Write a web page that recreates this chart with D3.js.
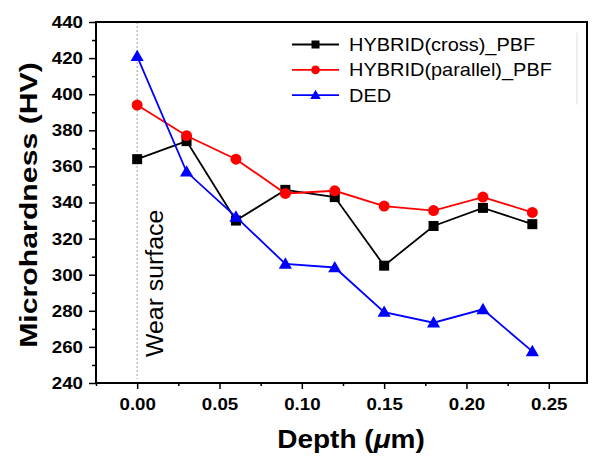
<!DOCTYPE html>
<html>
<head>
<meta charset="utf-8">
<script src="https://cdn.jsdelivr.net/npm/d3@7"></script>
<style>
  body { margin: 0; background: #fff; }
  text { font-family: "Liberation Sans", Arial, sans-serif; }
</style>
</head>
<body>
<div id="chart"></div>
<script>
// data
var depth = [0.00, 0.03, 0.06, 0.09, 0.12, 0.15, 0.18, 0.21, 0.24];
var cross = [364, 374, 330, 347, 343, 305, 327, 337, 328];
var parallel = [394, 377, 364, 345, 346.5, 338, 335.5, 343, 334.5];
var ded = [421, 357, 332, 306, 304, 279.3, 273.4, 280.8, 257.5];
var seriesNames = ["HYBRID(cross)_PBF", "HYBRID(parallel)_PBF", "DED"];
var xTicks = [0, 0.05, 0.10, 0.15, 0.20, 0.25];
var yTicks = [240, 260, 280, 300, 320, 340, 360, 380, 400, 420, 440];

var series = [
  {name: seriesNames[0], values: cross, color: "#000000", shape: "square"},
  {name: seriesNames[1], values: parallel, color: "#ff0000", shape: "circle"},
  {name: seriesNames[2], values: ded, color: "#0000ff", shape: "triangle"}
];

// set the dimensions and margins of the graph
var W = 594, H = 457;
var margin = {top: 22, right: 7, bottom: 74, left: 96},
    width = W - margin.left - margin.right,
    height = H - margin.top - margin.bottom;

var x = d3.scaleLinear().domain([-0.025, 0.2732]).range([0, width]);
var y = d3.scaleLinear().domain([240, 440]).range([height, 0]);

// the original text is drawn a bit wider than the font, stretch it along its own direction
function stretch(sel, k) {
  sel.each(function() {
    var len = this.getComputedTextLength();
    d3.select(this).attr("textLength", len * k).attr("lengthAdjust", "spacingAndGlyphs");
  });
}

var svg = d3.select("#chart").append("svg")
    .attr("width", W)
    .attr("height", H)
  .append("g")
    .attr("transform", "translate(" + margin.left + "," + margin.top + ")");

// wear surface marker
svg.append("line")
    .attr("x1", x(0)).attr("x2", x(0))
    .attr("y1", 0).attr("y2", height - 4)
    .style("stroke", "#999")
    .style("stroke-width", 1)
    .style("stroke-dasharray", "2,2");

svg.append("text")
    .attr("transform", "translate(" + (163 - margin.left) + "," + (357 - margin.top) + ") rotate(-90)")
    .style("font-size", "23px")
    .style("fill", "#000")
    .text("Wear surface")
    .call(stretch, 1.08);

// plot frame
svg.append("rect")
    .attr("width", width).attr("height", height)
    .style("fill", "none")
    .style("stroke", "#000")
    .style("stroke-width", 2);

// x axis, major + minor ticks
var xAxis = svg.append("g")
    .attr("transform", "translate(0," + height + ")")
    .call(d3.axisBottom(x).tickValues(xTicks).tickSize(6).tickPadding(9)
          .tickFormat(d3.format(".2f")));
xAxis.select(".domain").remove();
svg.append("g")
    .attr("transform", "translate(0," + height + ")")
    .call(d3.axisBottom(x).tickValues([-0.025, 0.025, 0.075, 0.125, 0.175, 0.225]).tickSize(3).tickFormat(""))
    .select(".domain").remove();

// y axis, major + minor ticks
var yAxis = svg.append("g")
    .call(d3.axisLeft(y).tickValues(yTicks).tickSize(7).tickPadding(6));
yAxis.select(".domain").remove();
svg.append("g")
    .call(d3.axisLeft(y).tickValues(d3.range(250, 440, 20)).tickSize(4).tickFormat(""))
    .select(".domain").remove();

svg.selectAll(".tick line").style("stroke", "#000").style("stroke-width", 1.5);
svg.selectAll(".tick text")
    .style("font-family", "'Liberation Sans', Arial, sans-serif")
    .style("font-size", "17px")
    .style("font-weight", "bold")
    .style("fill", "#000")
    .call(stretch, 1.1);

// lines + markers
var line = d3.line()
    .x(function(d, i) { return x(depth[i]); })
    .y(function(d) { return y(d); });

function marker(sel, shape, color) {
  if (shape === "square") {
    sel.append("rect").attr("x", -5).attr("y", -5).attr("width", 10).attr("height", 10)
       .style("fill", color);
  } else if (shape === "circle") {
    sel.append("circle").attr("r", 5.5).style("fill", color);
  } else {
    sel.append("path").attr("d", d3.symbol().type(d3.symbolTriangle).size(75)())
       .attr("transform", "translate(0,1)")
       .style("fill", color);
  }
}

series.forEach(function(s) {
  svg.append("path")
      .datum(s.values)
      .attr("d", line)
      .style("fill", "none")
      .style("stroke", s.color)
      .style("stroke-width", 1.8);
  s.values.forEach(function(v, i) {
    var g = svg.append("g").attr("transform", "translate(" + x(depth[i]) + "," + y(v) + ")");
    marker(g, s.shape, s.color);
  });
});

// legend
var legend = svg.append("g").attr("transform", "translate(" + (292 - margin.left) + "," + (44.5 - margin.top) + ")");
legend.append("line")
    .attr("x1", 577 - 292).attr("x2", 577 - 292)
    .attr("y1", -12).attr("y2", 60)
    .style("stroke", "#ddd");
series.forEach(function(s, i) {
  var g = legend.append("g").attr("transform", "translate(0," + (i * 25.3) + ")");
  g.append("line").attr("x1", 0).attr("x2", 47).attr("y1", 0).attr("y2", 0)
    .style("stroke", s.color).style("stroke-width", 1.8);
  var m = g.append("g").attr("transform", "translate(23.5,0) scale(0.8)");
  marker(m, s.shape, s.color);
  g.append("text")
    .attr("x", 57).attr("y", 6.5)
    .style("font-size", "19px")
    .style("fill", "#000")
    .text(s.name)
    .call(stretch, 1.05);
});

// axis titles
svg.append("text")
    .attr("x", 351 - margin.left)
    .attr("y", 448 - margin.top)
    .attr("text-anchor", "middle")
    .style("font-size", "25px")
    .style("font-weight", "bold")
    .html('Depth (<tspan style="font-style:italic">\u03bc</tspan>m)')
    .call(stretch, 1.12);

svg.append("text")
    .attr("transform", "translate(" + (37 - margin.left) + "," + (205 - margin.top) + ") rotate(-90)")
    .attr("text-anchor", "middle")
    .style("font-size", "24px")
    .style("font-weight", "bold")
    .text("Microhardness (HV)")
    .call(stretch, 1.26);
</script>
</body>
</html>
